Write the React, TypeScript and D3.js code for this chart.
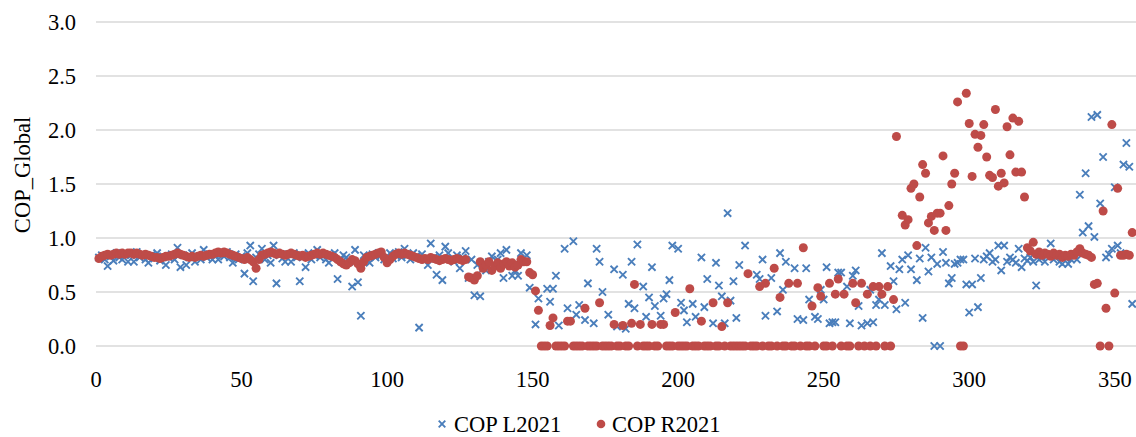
import React from 'react';
import * as d3 from 'd3';

// Day-of-year index starts at 1; null = no visible mark
const firstDay = 1;

const copL2021: (number | null)[] = [
  0.82, 0.84, 0.80, 0.74, 0.83, 0.79, 0.86, 0.82, 0.80, 0.85,
  0.78, 0.84, 0.78, 0.87, 0.82, 0.85, 0.80, 0.77, 0.84, 0.81,
  0.86, 0.79, 0.83, 0.75, 0.82, 0.85, 0.80, 0.91, 0.73, 0.84,
  0.75, 0.82, 0.86, 0.78, 0.83, 0.80, 0.89, 0.82, 0.85, 0.80,
  0.84, 0.80, 0.86, 0.83, 0.87, 0.82, 0.77, 0.85, 0.80, 0.83,
  0.67, 0.86, 0.93, 0.60, 0.82, 0.85, 0.90, 0.80, 0.84, 0.77,
  0.93, 0.58, 0.84, 0.81, 0.78, 0.85, 0.78, 0.86, 0.82, 0.60,
  0.84, 0.73, 0.86, 0.80, 0.84, 0.89, 0.82, 0.85, 0.80, 0.77,
  0.84, 0.86, 0.62, 0.80, 0.84, 0.82, 0.78, 0.55, 0.89, 0.59,
  0.28, 0.84, 0.80, 0.77, 0.85, 0.82, 0.86, 0.84, 0.80, 0.83,
  0.86, 0.81, 0.84, 0.87, 0.82, 0.90, 0.84, 0.80, 0.86, 0.83,
  0.17, 0.85, 0.80, 0.75, 0.95, 0.82, 0.66, 0.84, 0.61, 0.92,
  0.86, 0.80, 0.78, 0.84, 0.72, 0.82, 0.88, 0.63, 0.80, 0.47,
  0.75, 0.46, 0.72, 0.70, 0.78, 0.83, 0.74, 0.80, 0.86, 0.63,
  0.89, 0.76, 0.65, 0.70, 0.65, 0.86, 0.78, 0.84, 0.54, null,
  0.20, 0.44, null, null, 0.53, 0.41, 0.53, 0.65, 0.19, null,
  0.90, 0.35, null, 0.97, 0.29, 0.38, null, 0.24, 0.58, null,
  0.21, 0.90, 0.78, 0.50, null, 0.29, null, 0.71, 0.18, null,
  0.66, 0.16, 0.39, 0.78, 0.35, 0.94, null, 0.55, 0.27, 0.45,
  0.73, 0.37, null, 0.28, 0.44, 0.48, 0.61, 0.93, null, 0.90,
  0.40, 0.33, 0.22, null, 0.39, 0.27, null, 0.82, 0.36, 0.62,
  null, 0.21, 0.77, 0.56, 0.46, 0.21, 1.23, 0.42, 0.60, 0.26,
  0.75, null, 0.93, null, null, null, 0.66, 0.62, 0.80, 0.28,
  null, 0.63, null, 0.32, 0.86, 0.52, 0.78, null, null, 0.72,
  0.25, null, 0.24, 0.72, 0.43, null, 0.27, 0.25, 0.52, 0.43,
  0.73, 0.21, 0.22, 0.22, 0.68, 0.68, null, 0.55, 0.21, 0.65,
  0.70, 0.37, 0.19, null, 0.21, 0.52, 0.22, 0.38, 0.43, 0.86,
  0.38, 0.00, 0.74, 0.60, 0.34, 0.71, 0.80, 0.40, 0.84, 0.71,
  null, 0.61, 0.81, 0.26, 0.91, 0.69, 0.82, 0.00, 0.76, 0.00,
  0.87, 0.77, 0.58, 0.63, 0.76, 0.77, 0.80, 0.80, 0.57, 0.31,
  0.57, 0.81, 0.36, 0.63, 0.80, 0.83, 0.86, 0.78, 0.80, 0.93,
  0.70, 0.93, 0.78, 0.82, 0.80, 0.77, 0.90, 0.73, 0.81, 0.79,
  0.82, 0.78, 0.56, 0.80, 0.82, 0.78, 0.84, 0.95, 0.80, 0.83,
  0.78, 0.76, 0.82, 0.76, 0.80, 0.84, 0.80, 1.40, 1.05, 1.60,
  1.11, 2.12, 1.01, 2.14, 1.32, 1.75, 0.82, 0.85, 0.90, 1.47,
  0.93, 0.86, 1.68, 1.88, 1.66, 0.39,
];

const copR2021: (number | null)[] = [
  0.81, 0.83, 0.84, 0.85, 0.84, 0.85, 0.86, 0.85, 0.86, 0.85,
  0.86, 0.86, 0.85, 0.86, 0.85, 0.84, 0.85, 0.84, 0.83, 0.82,
  0.82, 0.81, 0.82, 0.83, 0.83, 0.84, 0.85, 0.86, 0.85, 0.84,
  0.83, 0.82, 0.83, 0.82, 0.83, 0.84, 0.83, 0.84, 0.85, 0.85,
  0.86, 0.87, 0.86, 0.87, 0.86, 0.85, 0.84, 0.83, 0.82, 0.81,
  0.80, 0.82, 0.80, 0.78, 0.72, 0.80, 0.84, 0.85, 0.86, 0.87,
  0.86, 0.85, 0.86, 0.85, 0.84, 0.85, 0.86, 0.85, 0.84, 0.83,
  0.84, 0.82, 0.83, 0.84, 0.85, 0.86, 0.85, 0.86, 0.85, 0.84,
  0.83, 0.82, 0.80, 0.78, 0.76, 0.75, 0.77, 0.80, 0.79, 0.76,
  0.72, 0.78, 0.82, 0.83, 0.84, 0.85, 0.86, 0.87, 0.82, 0.77,
  0.80, 0.83, 0.85, 0.86, 0.85, 0.86, 0.85, 0.84, 0.83, 0.82,
  0.81, 0.80, 0.81, 0.80, 0.82, 0.81, 0.80, 0.79, 0.80, 0.81,
  0.80, 0.79, 0.80, 0.81, 0.80, 0.79, 0.80, 0.64, 0.63, 0.61,
  0.65, 0.78, 0.72, 0.75, 0.78, 0.70, 0.74, 0.77, 0.72, 0.76,
  0.78, 0.74, 0.77, 0.73, 0.75, 0.80, 0.78, 0.78, 0.68, 0.66,
  0.51, 0.33, 0, 0, 0, 0.19, 0.26, 0, 0, 0,
  0, 0.23, 0.23, 0, 0, 0, 0, 0.35, 0, 0,
  0, 0, 0.40, 0, 0, 0, 0, 0.20, 0, 0,
  0.19, 0, 0, 0.21, 0.57, 0, 0.20, 0, 0, 0,
  0.20, 0, 0, 0.20, 0.20, 0, 0, 0, 0.31, 0,
  0, 0, 0, 0.53, 0, 0, 0, 0.23, 0, 0,
  0, 0.40, 0, 0, 0.18, 0, 0.40, 0, 0, 0,
  0, 0, 0, 0.67, 0, 0, 0, 0.55, 0, 0.58,
  0, 0, 0.72, 0, 0.45, 0, 0, 0.58, 0, 0,
  0.58, 0, 0.91, 0, 0, 0.37, 0, 0.54, 0.46, 0,
  0, 0.58, 0, 0.48, 0.62, 0, 0.48, 0, 0, 0.58,
  0.40, 0, 0.58, 0, 0.48, 0, 0.55, 0, 0.55, 0.48,
  0, 0.55, 0, 0.43, 1.94, null, 1.21, 1.12, 1.17, 1.46,
  1.50, 0.93, 1.38, 1.68, 1.60, 1.14, 1.20, 1.07, 1.23, 1.23,
  1.76, 1.07, 1.30, 1.50, 1.60, 2.26, 0, 0, 2.34, 2.06,
  1.57, 1.96, 1.84, 1.95, 2.05, 1.75, 1.58, 1.56, 2.19, 1.48,
  1.60, 1.51, 2.03, 1.77, 2.11, 1.61, 2.08, 1.61, 1.38, 0.91,
  0.88, 0.96, 0.85, 0.87, 0.84, 0.86, 0.85, 0.83, 0.86, 0.84,
  0.85, 0.82, 0.84, 0.83, 0.85, 0.84, 0.87, 0.90, 0.86, 0.85,
  0.84, 0.82, 0.57, 0.58, 0, 1.25, 0.35, 0, 2.05, 0.49,
  1.46, 0.84, 0.84, 0.85, 0.84, 1.05,
];

const xTicks = [0, 50, 100, 150, 200, 250, 300, 350];
const yTicks = [0, 0.5, 1.0, 1.5, 2.0, 2.5, 3.0];
const seriesNames = ['COP L2021', 'COP R2021'];
const yTitle = 'COP_Global';

const BLUE = '#4a7ebb';
const RED = '#be4b48';
const FONT = "'Liberation Serif', 'Times New Roman', serif";

function toPoints(vals: (number | null)[]) {
  const pts: { d: number; v: number }[] = [];
  vals.forEach((v, i) => {
    if (v !== null && v !== undefined) pts.push({ d: i + firstDay, v });
  });
  return pts;
}

function Cross({ cx, cy, s = 3.6 }: { cx: number; cy: number; s?: number }) {
  return (
    <path
      d={`M${cx - s},${cy - s}L${cx + s},${cy + s}M${cx - s},${cy + s}L${cx + s},${cy - s}`}
      stroke={BLUE}
      strokeWidth={1.9}
      fill="none"
    />
  );
}

export default function App() {
  const W = 1136;
  const H = 437;
  const x = d3.scaleLinear().domain([0, 357.3]).range([96, 1136]);
  const y = d3.scaleLinear().domain([0, 3]).range([346, 22]);
  const lPts = toPoints(copL2021);
  const rPts = toPoints(copR2021);
  const fs = 22.5;

  return (
    <svg
      width={W}
      height={H}
      style={{ position: 'absolute', left: 0, top: 0, background: '#fff' }}
      fontFamily={FONT}
    >
      <rect x={0} y={0} width={W} height={H} fill="#fff" />
      {yTicks.map((t) => (
        <line key={'g' + t} x1={x(0)} x2={W} y1={y(t)} y2={y(t)} stroke="#d9d9d9" strokeWidth={1.3} />
      ))}
      {yTicks.map((t) => (
        <text key={'yl' + t} x={76} y={y(t) + 7.6} textAnchor="end" fontSize={fs} fill="#000">
          {d3.format('.1f')(t)}
        </text>
      ))}
      {xTicks.map((t) => (
        <text key={'xl' + t} x={x(t)} y={387} textAnchor="middle" fontSize={fs} fill="#000">
          {t}
        </text>
      ))}
      <text transform="translate(30,175) rotate(-90)" textAnchor="middle" fontSize={fs} fill="#000">
        {yTitle}
      </text>
      <g>
        {lPts.map((p, i) => (
          <Cross key={'l' + i} cx={x(p.d)} cy={y(p.v)} />
        ))}
      </g>
      <g>
        {rPts.map((p, i) => (
          <circle key={'r' + i} cx={x(p.d)} cy={y(p.v)} r={4.5} fill={RED} />
        ))}
      </g>
      <g>
        <Cross cx={442} cy={424} s={3.3} />
        <text x={454} y={432} fontSize={fs} fill="#000">{seriesNames[0]}</text>
        <circle cx={601} cy={424} r={4.3} fill={RED} />
        <text x={612} y={432} fontSize={fs} fill="#000">{seriesNames[1]}</text>
      </g>
    </svg>
  );
}
